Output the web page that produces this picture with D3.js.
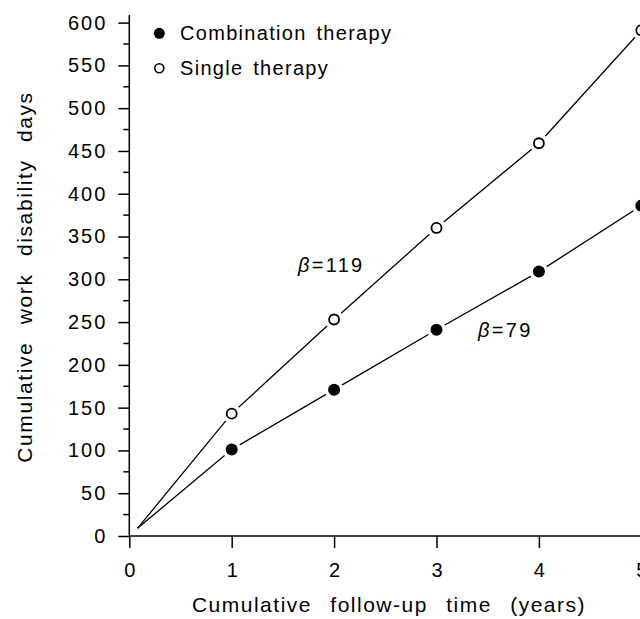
<!DOCTYPE html>
<html>
<head>
<meta charset="utf-8">
<script src="https://cdn.jsdelivr.net/npm/d3@7"></script>
<style>
  body { margin: 0; background: #fff; }
  svg text { font-family: "Liberation Sans", Arial, sans-serif; fill: #000; }
</style>
</head>
<body>
<div id="chart"></div>
<script>
// values
const years = [1, 2, 3, 4, 5];
const combination = [101, 171, 241, 309, 386];
const single = [143, 253, 360, 459, 591];
const start = [0.08, 9];   // both curves begin here
const xTicks = [0, 1, 2, 3, 4, 5];
const yTicks = [0, 50, 100, 150, 200, 250, 300, 350, 400, 450, 500, 550, 600];
const seriesNames = ['Combination therapy', 'Single therapy'];

const width = 640, height = 619;
const svg = d3.select('#chart').append('svg')
    .attr('width', width)
    .attr('height', height);

const x = d3.scaleLinear().domain([0, 5]).range([129.3, 641.3]);
const y = d3.scaleLinear().domain([0, 600]).range([536, 22.6]);

// y axis
const yAxis = d3.axisLeft(y).tickValues(yTicks).tickSize(11).tickPadding(13);
const gy = svg.append('g').attr('transform', `translate(${x(0)},0)`).call(yAxis);
gy.select('.domain').remove();
gy.selectAll('.tick line').attr('stroke', '#000').attr('stroke-width', 1.5);
gy.selectAll('.tick text')
    .attr('font-size', 20)
    .attr('letter-spacing', 2)
    .attr('dx', 2);
gy.append('g').selectAll('line')
    .data(d3.range(25, 600, 50))
    .join('line')
    .attr('x1', -6).attr('x2', 0)
    .attr('y1', d => y(d)).attr('y2', d => y(d))
    .attr('stroke', '#000').attr('stroke-width', 1.5);
gy.append('line')
    .attr('x1', 0).attr('x2', 0)
    .attr('y1', y(0)).attr('y2', y(609))
    .attr('stroke', '#000').attr('stroke-width', 1.5);

// x axis
const xAxis = d3.axisBottom(x).tickValues(xTicks).tickFormat(d3.format('d'))
    .tickSize(12).tickPadding(15);
const gx = svg.append('g').attr('transform', `translate(0,${y(0)})`).call(xAxis);
gx.select('.domain').remove();
gx.selectAll('.tick line').attr('stroke', '#000').attr('stroke-width', 1.5);
gx.selectAll('.tick text')
    .attr('font-size', 20);
gx.append('line')
    .attr('x1', x(0)).attr('x2', width)
    .attr('y1', 0).attr('y2', 0)
    .attr('stroke', '#000').attr('stroke-width', 1.5);

// axis titles
svg.append('text')
    .attr('x', 389).attr('y', 612)
    .attr('text-anchor', 'middle')
    .attr('font-size', 21)
    .attr('letter-spacing', 1.5)
    .attr('word-spacing', 11)
    .text('Cumulative follow-up time (years)');

svg.append('text')
    .attr('transform', 'translate(32,277) rotate(-90)')
    .attr('text-anchor', 'middle')
    .attr('font-size', 21)
    .attr('letter-spacing', 1.6)
    .attr('word-spacing', 10)
    .text('Cumulative work disability days');

// lines and markers
const line = d3.line().x(d => x(d[0])).y(d => y(d[1]));
const series = [
    {name: seriesNames[0], values: combination, filled: true},
    {name: seriesNames[1], values: single, filled: false}
];

series.forEach(s => {
    const pts = [start].concat(years.map((yr, i) => [yr, s.values[i]]));
    svg.append('path')
        .datum(pts)
        .attr('d', line)
        .attr('fill', 'none')
        .attr('stroke', '#000')
        .attr('stroke-width', 1.3);
});

series.forEach(s => {
    const pts = years.map((yr, i) => [yr, s.values[i]]);
    // white halo gives the gap between line and marker
    svg.append('g').selectAll('circle')
        .data(pts)
        .join('circle')
        .attr('cx', d => x(d[0])).attr('cy', d => y(d[1]))
        .attr('r', 9.5)
        .attr('fill', '#fff');
    svg.append('g').selectAll('circle')
        .data(pts)
        .join('circle')
        .attr('cx', d => x(d[0])).attr('cy', d => y(d[1]))
        .attr('r', s.filled ? 6 : 5)
        .attr('fill', s.filled ? '#000' : '#fff')
        .attr('stroke', '#000')
        .attr('stroke-width', s.filled ? 0 : 1.8);
});

// slope annotations
const betas = [
    {x: 298, y: 272, v: '119'},
    {x: 478, y: 337, v: '79'}
];
betas.forEach(b => {
    const t = svg.append('text')
        .attr('x', b.x).attr('y', b.y)
        .attr('font-size', 20)
        .attr('letter-spacing', 2.3);
    t.append('tspan').attr('font-style', 'italic').text('β');
    t.append('tspan').text('=' + b.v);
});

// legend
const legend = svg.append('g');
series.forEach((s, i) => {
    const ly = 33.3 + i * 35;
    legend.append('circle')
        .attr('cx', 159.3).attr('cy', ly)
        .attr('r', s.filled ? 5.5 : 4.5)
        .attr('fill', s.filled ? '#000' : '#fff')
        .attr('stroke', '#000')
        .attr('stroke-width', s.filled ? 0 : 1.6);
    legend.append('text')
        .attr('x', 180).attr('y', ly + 7)
        .attr('font-size', 20)
        .attr('letter-spacing', 1.3)
        .attr('word-spacing', 3)
        .text(s.name);
});
</script>
</body>
</html>
